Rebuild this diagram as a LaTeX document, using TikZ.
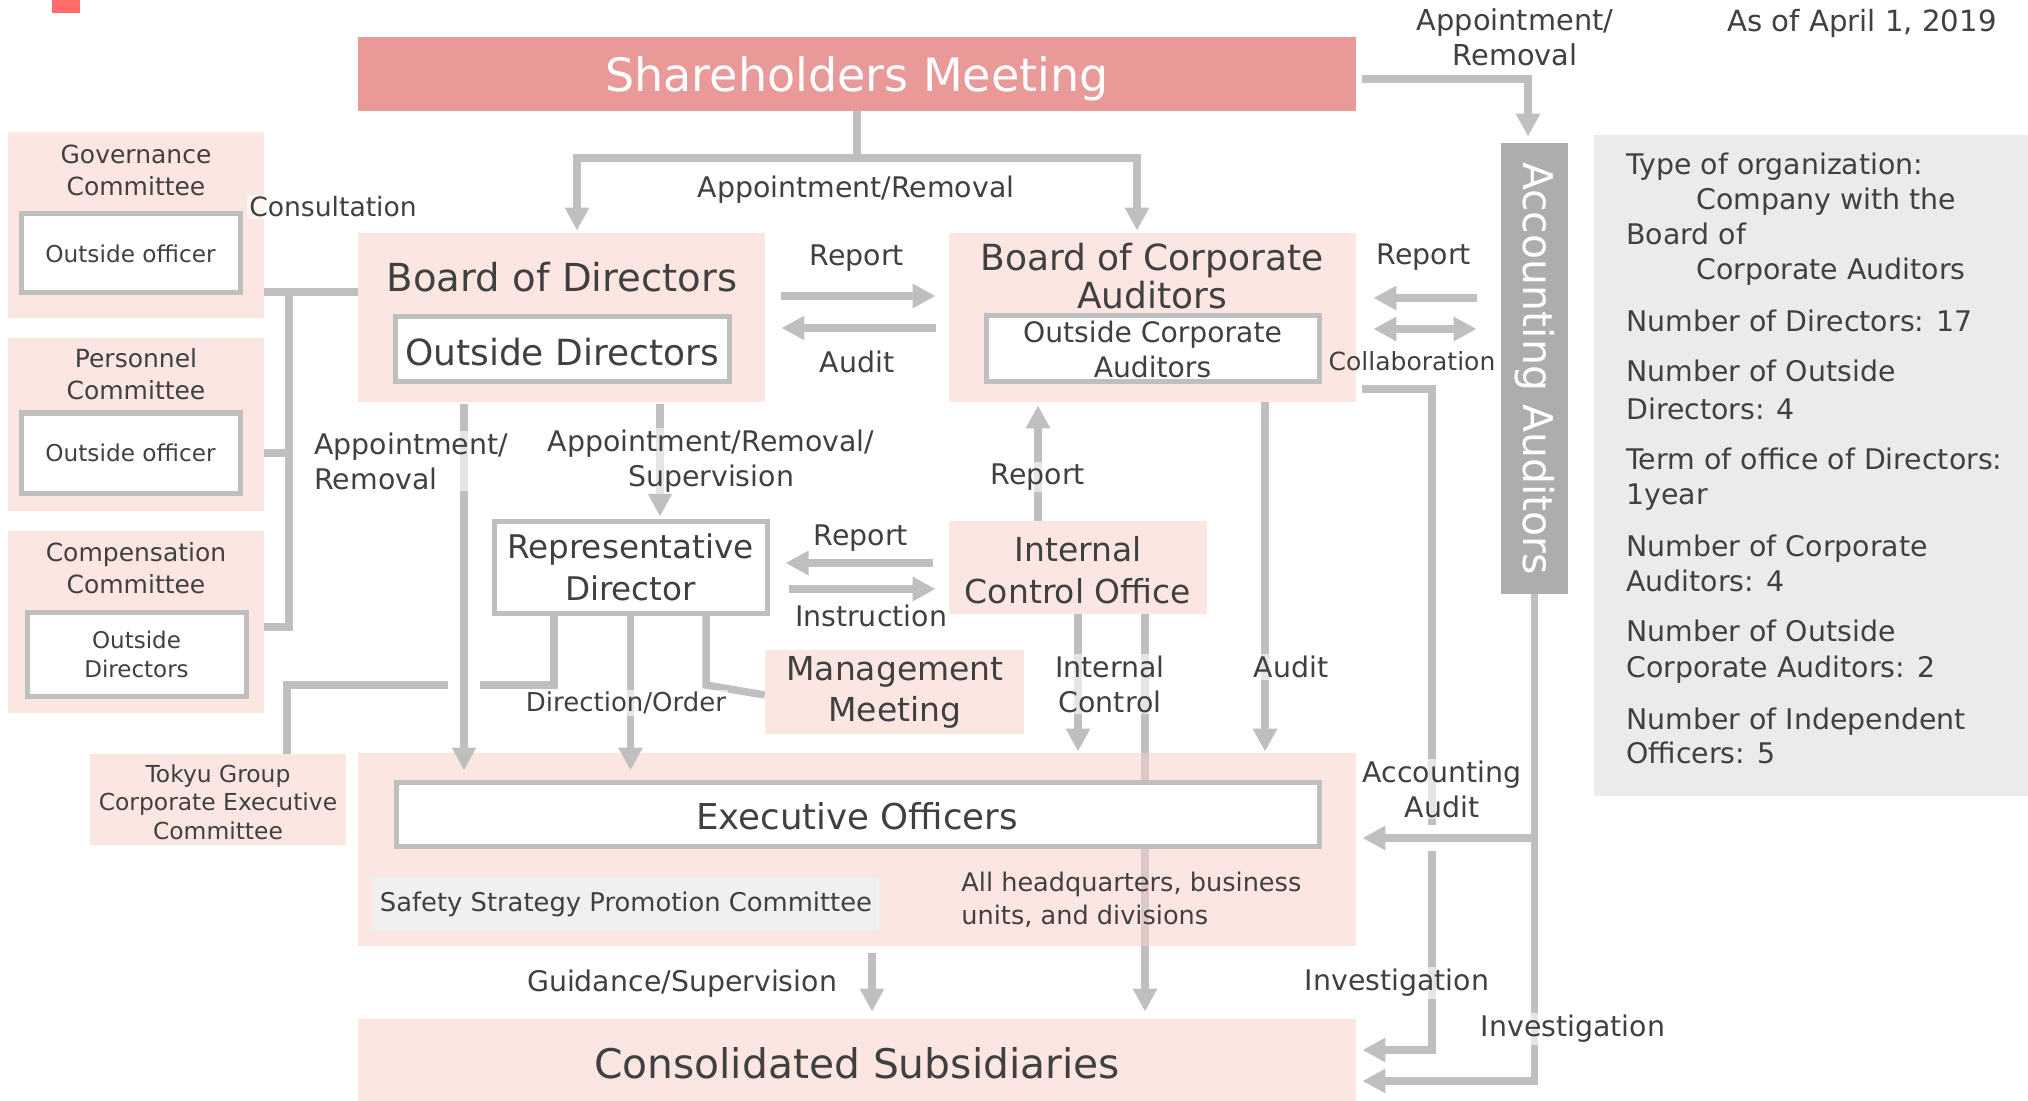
\documentclass[tikz,border=0pt]{standalone}
\usepackage{fontspec}
\setmainfont{DejaVu Sans}
\usetikzlibrary{arrows.meta,fit}
\definecolor{pinkc}{HTML}{FCE6E2}
\definecolor{smred}{HTML}{EA9999}
\definecolor{linec}{HTML}{BFBFBF}
\definecolor{aagray}{HTML}{ADADAD}
\definecolor{infogray}{HTML}{EBEBEB}
\definecolor{sspgray}{HTML}{F0F0F0}
\definecolor{txt}{HTML}{404040}
\definecolor{redsq}{HTML}{FF6B6B}
\definecolor{blendc}{HTML}{DCC9C5}
\newcommand\myfs[2]{\fontsize{#1}{#2}\selectfont}
\begin{document}
\begin{tikzpicture}[x=0.5pt,y=-0.5pt,
  pbox/.style={fill=pinkc, draw=none, inner sep=0pt},
  wbox/.style={fill=white, draw=linec, line width=2.5pt, inner sep=0pt},
  txtn/.style={text=txt, align=center, inner sep=0pt},
  conn/.style={draw=linec, line width=3.75pt},
  arr/.style={conn, -{Triangle[width=11.5pt,length=11.5pt]}},
  darr/.style={conn, {Triangle[width=11.5pt,length=11.5pt]}-{Triangle[width=11.5pt,length=11.5pt]}},
  lbl/.style={text=txt, fill=white, fill opacity=0.6, text opacity=1, inner sep=1pt, align=center, font=\myfs{14.2}{17.5}},
  infol/.style={text=txt, anchor=base west, inner sep=0pt, font=\myfs{14.2}{17.5}}
]
\useasboundingbox (0,0) rectangle (2028,1101);
\fill[redsq] (52,0) rectangle (80,13);

% ---------- boxes ----------
\node[fit={(358,37)(1356,111)}, fill=smred, inner sep=0pt] (sm) {};
\node[text=white, inner sep=0pt, font=\myfs{23}{28}] (smt) at (857,79) {Shareholders Meeting};

\node[pbox, fit={(8,132)(264,318)}] (gov) {};
\node[txtn, font=\myfs{12.5}{16}] (govt) at (136,170) {Governance\\Committee};
\node[wbox, fit={(21,214)(240,293)}] (govin) {};
\node[txtn, font=\myfs{11.6}{14}] (govint) at (govin.center) {Outside officer};

\node[pbox, fit={(8,338)(264,511)}] (per) {};
\node[txtn, font=\myfs{12.5}{16}] (pert) at (136,374) {Personnel\\Committee};
\node[wbox, fit={(21,413)(240,493)}] (perin) {};
\node[txtn, font=\myfs{11.6}{14}] (perint) at (perin.center) {Outside officer};

\node[pbox, fit={(8,531)(264,713)}] (comp) {};
\node[txtn, font=\myfs{12.5}{16}] (compt) at (136,568) {Compensation\\Committee};
\node[wbox, fit={(27,612)(246,696)}] (compin) {};
\node[txtn, font=\myfs{11.5}{14.5}] (compint) at (compin.center) {Outside\\Directors};

\node[pbox, fit={(358,233)(765,402)}] (bod) {};
\node[txtn, font=\myfs{19.3}{23}] (bodt) at (562,277) {Board of Directors};
\node[wbox, fit={(395,317)(729,382)}] (bodin) {};
\node[txtn, font=\myfs{18}{22}] (bodint) at (562,352) {Outside Directors};

\node[pbox, fit={(949,233)(1356,402)}] (bca) {};
\node[txtn, font=\myfs{18}{19}] (bcat) at (1152,276) {Board of Corporate\\Auditors};
\node[wbox, fit={(986,316)(1319,382)}] (bcain) {};
\node[txtn, font=\myfs{14.1}{17.5}] (bcaint) at (bcain.center) {Outside Corporate\\Auditors};

\node[fit={(1501,143)(1568,594)}, fill=aagray, inner sep=0pt] (aa) {};
\node[text=white, rotate=-90, inner sep=0pt, font=\myfs{20.5}{24}] (aat) at (aa.center) {Accounting Auditors};

\node[fit={(1594,135)(2028,796)}, fill=infogray, inner sep=0pt] (info) {};
\node[infol] (i1) at (1626,175) {Type of organization:};
\node[infol] (i2) at (1696,210) {Company with the};
\node[infol] (i3) at (1626,245) {Board of};
\node[infol] (i4) at (1696,280) {Corporate Auditors};
\node[infol] (i5) at (1626,332) {Number of Directors: 17};
\node[infol] (i6) at (1626,382) {Number of Outside};
\node[infol] (i7) at (1626,419) {Directors: 4};
\node[infol] (i8) at (1626,469) {Term of office of Directors:};
\node[infol] (i9) at (1626,504) {1year};
\node[infol] (i10) at (1626,556) {Number of Corporate};
\node[infol] (i11) at (1626,591) {Auditors: 4};
\node[infol] (i12) at (1626,641) {Number of Outside};
\node[infol] (i13) at (1626,677) {Corporate Auditors: 2};
\node[infol] (i14) at (1626,729) {Number of Independent};
\node[infol] (i15) at (1626,763) {Officers: 5};

\node[pbox, fit={(949,521)(1207,614)}] (ico) {};
\node[txtn, font=\myfs{16.5}{21}] (icot) at (1078,570) {Internal\\Control Office};
\node[wbox, fit={(494,521)(767,613)}] (rd) {};
\node[txtn, font=\myfs{16.3}{21}] (rdt) at (rd.center) {Representative\\Director};
\node[pbox, fit={(765,650)(1024,734)}] (mm) {};
\node[txtn, font=\myfs{16.5}{20.5}] (mmt) at (895,692) {Management\\Meeting};
\node[pbox, fit={(90,754)(346,845)}] (tokyu) {};
\node[txtn, font=\myfs{11.7}{14.3}] (tokyut) at (218,802) {Tokyu Group\\Corporate Executive\\Committee};
\node[pbox, fit={(358,1019)(1356,1101)}] (cs) {};
\node[txtn, font=\myfs{20.4}{24}] (cst) at (857,1063) {Consolidated Subsidiaries};
\node[pbox, fit={(358,753)(1356,946)}] (eo) {};

% line from internal control office through executive officers
\draw[arr, shorten >=3.5pt] (ico.south -| 1145,0) -- (cs.north -| 1145,0);
\draw[conn, draw=blendc] (eo.north -| 1145,0) -- (eo.south -| 1145,0);

\node[wbox, fit={(396,782)(1319,846)}] (eoin) {};
\node[txtn, font=\myfs{17.8}{22}] (eoint) at (857,816) {Executive Officers};
\node[fit={(373,877)(879,931)}, fill=sspgray, inner sep=0pt] (ssp) {};
\node[txtn, font=\myfs{12.9}{15}] (sspt) at (ssp.center) {Safety Strategy Promotion Committee};
\node[txtn, anchor=west, align=left, font=\myfs{12.8}{16.5}] (allhq) at (961,900) {All headquarters, business\\units, and divisions};

% ---------- connectors ----------
\draw[conn] (sm.south) -- (sm.south |- 0,158) coordinate (smj);
\draw[arr, shorten >=1pt] (smj) -| (bod.north -| 577,0);
\draw[arr, shorten >=1pt] (smj) -| (bca.north -| 1137,0);
\draw[arr, shorten <=3pt, shorten >=3pt] (sm.east |- 0,79) -| (aa.north -| 1528,0);

\draw[conn] (bod.west |- 0,292) -- (gov.east |- 0,292);
\draw[conn] (289,292) coordinate (brk) |- (comp.east |- 0,627);
\draw[conn] (per.east |- 0,453) -- (brk |- 0,453);

\draw[arr, shorten <=8pt, shorten >=6.5pt] (bod.east |- 0,296) -- (bca.west |- 0,296);
\draw[arr, shorten <=6.5pt, shorten >=8pt] (bca.west |- 0,328) -- (bod.east |- 0,328);

\draw[arr, shorten <=12pt, shorten >=8.5pt] (aa.west |- 0,298) -- (bca.east |- 0,298);
\draw[darr, shorten <=8.5pt, shorten >=12pt] (bca.east |- 0,329) -- (aa.west |- 0,329);

\draw[arr, shorten <=3pt, shorten >=3pt] (bca.east |- 0,389) -| (1432,1050) -- (cs.east |- 0,1050);
\draw[arr, shorten >=3pt] (aa.south) |- (cs.east |- 0,1081);
\draw[white, line width=13pt] (1412,838) -- (1452,838);
\draw[arr, shorten >=3pt] (aa.south |- 0,838) -- (eo.east |- 0,838);

\draw[arr, shorten >=1.5pt] (ico.north -| 1038,0) -- (bca.south -| 1038,0);
\draw[arr, shorten >=0.5pt] (bca.south -| 1265,0) -- (eo.north -| 1265,0);
\draw[arr, shorten >=0.5pt] (ico.south -| 1078,0) -- (eo.north -| 1078,0);

\draw[arr, shorten <=8pt, shorten >=8pt] (ico.west |- 0,563) -- (rd.east |- 0,563);
\draw[arr, shorten <=9.5pt, shorten >=6.5pt] (rd.east |- 0,589) -- (ico.west |- 0,589);

\draw[arr, shorten <=1pt, shorten >=1pt] (bod.south -| 660,0) -- (rd.north -| 660,0);
\draw[arr, shorten <=1pt, shorten >=4.5pt] (bod.south -| 464,0) -- (eoin.north -| 464,0);

\draw[conn] (rd.south -| 554,0) |- (480,685);
\draw[conn] (448,685) -| (tokyu.north -| 287,0);
\draw[arr, shorten >=4.5pt] (rd.south) -- (eoin.north -| rd.south);
\draw[conn] (rd.south -| 706,0) -- (706,685) -- (mm.west |- 0,695);

\draw[arr, shorten <=3.5pt, shorten >=3.5pt] (eo.south -| 872,0) -- (cs.north -| 872,0);

% ---------- labels ----------
\node[lbl, font=\myfs{13.3}{16}] (lcons) at (333,207) {Consultation};
\node[lbl] (lapp) at (856,190) {Appointment/Removal};
\node[lbl, font=\myfs{14.4}{17.5}] (lapp2) at (1515,37) {Appointment/\\Removal};
\node[lbl, font=\myfs{14.6}{17.5}] (ldate) at (1862,23) {As of April 1, 2019};
\node[lbl] (lrep1) at (857,258) {Report};
\node[lbl] (laud1) at (857,362) {Audit};
\node[lbl] (lrep2) at (1424,257) {Report};
\node[txtn, font=\myfs{12.5}{15}] (lcoll) at (1412,361) {Collaboration};
\node[lbl, anchor=west, align=left] (lapp3) at (312,461) {Appointment/\\Removal};
\node[lbl] (lapp4) at (711,461) {Appointment/Removal/\\Supervision};
\node[lbl] (lrep3) at (1038,477) {Report};
\node[lbl] (lrep4) at (861,538) {Report};
\node[lbl] (linst) at (871,616) {Instruction};
\node[lbl, font=\myfs{13}{16}] (ldir) at (626,703) {Direction/Order};
\node[lbl] (lic) at (1110,684) {Internal\\Control};
\node[lbl] (laud2) at (1291,667) {Audit};
\node[lbl] (lacc) at (1442,789) {Accounting\\Audit};
\node[lbl] (lguid) at (682,984) {Guidance/Supervision};
\node[lbl] (linv1) at (1397,983) {Investigation};
\node[lbl] (linv2) at (1573,1029) {Investigation};
\end{tikzpicture}
\end{document}
